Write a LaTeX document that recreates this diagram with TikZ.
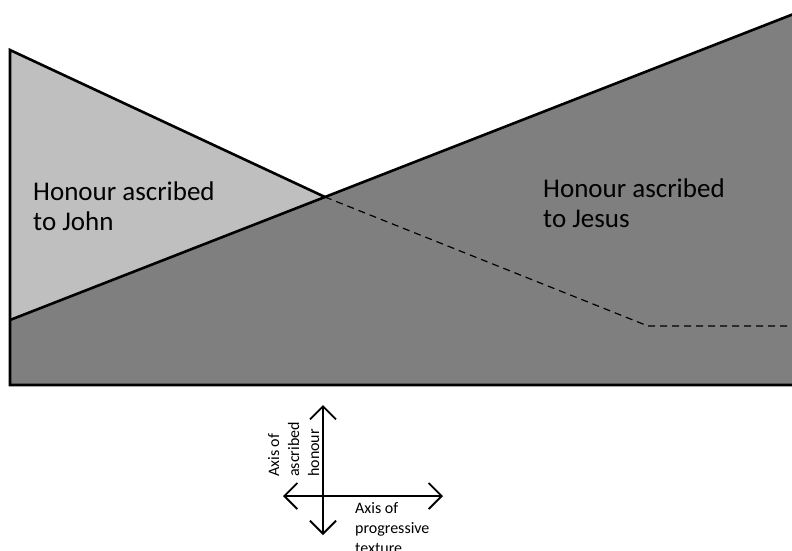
\documentclass[tikz,border=0pt]{standalone}
\usepackage{fontspec}
\setmainfont{Carlito}
\usetikzlibrary{arrows.meta}
\definecolor{lightfill}{HTML}{BFBFBF}
\definecolor{darkfill}{HTML}{7F7F7F}
\tikzset{
  region/.style={draw=black, line width=2.6pt, line join=miter},
  guide/.style={draw=black, line width=1.2pt, dash pattern=on 7pt off 5pt},
  bigtext/.style={anchor=base west, inner sep=0pt, font=\fontsize{27}{30}\selectfont, align=left},
  axislabel/.style={anchor=base west, inner sep=0pt, font=\fontsize{16}{20}\selectfont, align=left},
  axisarrow/.style={line width=1.8pt, {Straight Barb[length=13pt,width=26pt,line width=1.8pt]}-{Straight Barb[length=13pt,width=26pt,line width=1.8pt]}}
}
\begin{document}
\begin{tikzpicture}[x=1pt,y=-1pt]
\useasboundingbox (0,0) rectangle (792,550);
\fill[white] (0,0) rectangle (792,550);
% corner coordinates
\coordinate (tl) at (10,50);
\coordinate (cross) at (325,197);
\coordinate (bl) at (10,320);
\coordinate (tr) at (800,11.5);
\coordinate (br) at (800,385);
\coordinate (bottomleft) at (10,385);
\coordinate (bend) at (648,326);
\coordinate (dashend) at (800,326);
% light region
\path[fill=lightfill] (tl) -- (cross) -- (bl) -- cycle;
% dark region
\path[fill=darkfill] (bl) -- (tr) -- (br) -- (bottomleft) -- cycle;
% outlines
\draw[region] (cross) -- (tl) -- (bottomleft) -- (br);
\draw[region] (bl) -- (tr);
% dashed guide
\draw[guide] (cross) -- (bend) -- (dashend);
% labels (anchor = baseline of last line)
\node[bigtext] (john) at (33,230) {Honour ascribed\\to John};
\node[bigtext] (jesus) at (543,227) {Honour ascribed\\to Jesus};
% axes
\coordinate (vtop) at (323,405);
\coordinate (vbot) at (323,535);
\coordinate (hleft) at (283,496);
\coordinate (hright) at (443,496);
\draw[axisarrow] (vtop) -- (vbot);
\draw[axisarrow] (hleft) -- (hright);
\node[axislabel] (hlabel) at (355,553) {Axis of\\progressive\\texture};
\node[axislabel, rotate=90] (vlabel) at (319,477) {Axis of\\ascribed\\honour};
\end{tikzpicture}
\end{document}
